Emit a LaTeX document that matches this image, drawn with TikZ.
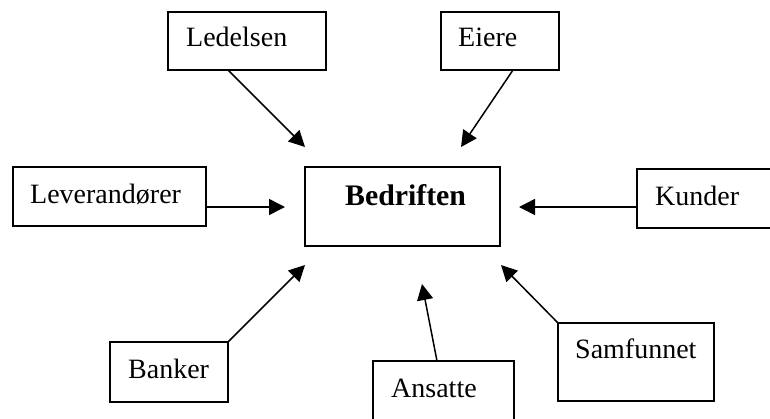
\documentclass[tikz,border=0pt]{standalone}
\usepackage{fontspec}
\setmainfont{Liberation Serif}
\usetikzlibrary{arrows.meta,calc}
\begin{document}
\begin{tikzpicture}[x=1pt,y=-1pt,
  box/.style={draw=black,line width=1.6pt,rectangle,inner sep=0pt,outer sep=0pt,anchor=north west},
  lbl/.style={inner sep=0pt,anchor=base west,font=\fontsize{28}{33}\selectfont},
  blbl/.style={inner sep=0pt,anchor=base west,font=\fontsize{29.8}{35}\selectfont\bfseries},
  arr/.style={line width=1.5pt,-{Triangle[length=16pt,width=16pt]}}]
\useasboundingbox (0,0) rectangle (770,418);
% boxes
\node[box,minimum width=158pt,minimum height=58pt] (led) at (168,12) {};
\node[box,minimum width=118pt,minimum height=58pt] (eie) at (441,12) {};
\node[box,minimum width=193pt,minimum height=59pt] (lev) at (13,167) {};
\node[box,minimum width=195pt,minimum height=79pt] (bed) at (305,167) {};
\node[box,minimum width=140pt,minimum height=59pt] (kun) at (637,169) {};
\node[box,minimum width=118pt,minimum height=60pt] (ban) at (110,342) {};
\node[box,minimum width=141pt,minimum height=70pt] (ans) at (373,361) {};
\node[box,minimum width=156pt,minimum height=78pt] (sam) at (558,323) {};
% labels
\node[lbl] (ledt) at (186,46) {Ledelsen};
\node[lbl] (eiet) at (458,46) {Eiere};
\node[lbl] (levt) at (30,203) {Leverandører};
\node[blbl] (bedt) at (345,205) {Bedriften};
\node[lbl] (kunt) at (655,205) {Kunder};
\node[lbl] (bant) at (128,378) {Banker};
\node[lbl] (anst) at (391,397) {Ansatte};
\node[lbl] (samt) at (575,358) {Samfunnet};
% arrow tips
\coordinate (ledtip) at (305,147);
\coordinate (eietip) at (461,147);
\coordinate (levtip) at (285,207);
\coordinate (kuntip) at (519,207);
\coordinate (bantip) at (305,265);
\coordinate (anstip) at (422,284);
\coordinate (samtip) at (501,265);
% arrows
\draw[arr] ($(led.south west)+(60,0)$) -- (ledtip);
\draw[arr] ($(eie.south west)+(72,0)$) -- (eietip);
\draw[arr] (lev.east |- levtip) -- (levtip);
\draw[arr] (kun.west |- kuntip) -- (kuntip);
\draw[arr] (ban.north east) -- (bantip);
\draw[arr] ($(ans.north west)+(64,0)$) -- (anstip);
\draw[arr] (sam.north west) -- (samtip);
\end{tikzpicture}
\end{document}
